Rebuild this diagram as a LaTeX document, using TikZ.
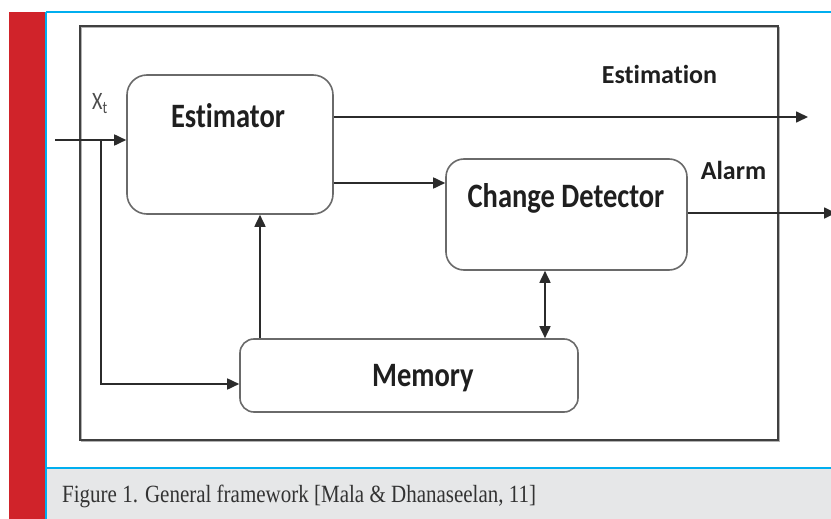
\documentclass[tikz,border=0pt]{standalone}
\usepackage{fontspec}
\usetikzlibrary{arrows.meta}
\newfontfamily\calib[Ligatures=NoCommon]{Carlito}
\newfontfamily\capserif{Liberation Serif}
\definecolor{barred}{HTML}{D0232A}
\definecolor{rulecyan}{HTML}{00AEEF}
\definecolor{capbg}{HTML}{E6E7E8}
\definecolor{boxline}{HTML}{6A6A6A}
\definecolor{wire}{HTML}{2B2B2B}
\tikzset{
  blk/.style={draw=boxline, line width=1.6pt, rounded corners=#1, inner sep=0pt},
  blk/.default=18pt,
  wirearrow/.style={draw=wire, line width=1.7pt, -{Triangle[length=12pt,width=11pt]}},
  wireboth/.style={draw=wire, line width=1.7pt, {Triangle[length=12pt,width=11pt]}-{Triangle[length=12pt,width=11pt]}},
  boxtext/.style={anchor=base, inner sep=0pt, text=black!88, font=\calib\bfseries\fontsize{28.5}{30}\selectfont},
  outtext/.style={anchor=base, inner sep=0pt, text=black!88, font=\calib\bfseries\fontsize{26}{28}\selectfont},
}
\begin{document}
\begin{tikzpicture}[x=1pt,y=-1pt]
\useasboundingbox (0,0) rectangle (831,519);
% page background, side bar, caption strip and rules
\fill[white] (0,0) rectangle (831,519);
\fill[barred] (9,12) rectangle (45,519);
\fill[capbg] (46,468) rectangle (831,519);
\draw[rulecyan, line width=1.6pt] (46,12) -- (831,12);
\draw[rulecyan, line width=1.6pt] (46,12) -- (46,519);
\draw[rulecyan, line width=2pt] (46,468) -- (831,468);
\node[anchor=base west, inner sep=0pt, text=black!80, font=\capserif\fontsize{21}{24}\selectfont] (caption) at (62,502)
  {\scalebox{1}[1.18]{Figure 1. General framework [Mala \& Dhanaseelan, 11]}};
% outer frame with a soft shadow
\draw[black!30, line width=1.6pt] (81.5,27.5) rectangle (779.5,441.5);
\draw[black!75, line width=1.6pt] (80,26) rectangle (778,440);
% blocks
\node[blk=20pt, minimum width=206pt, minimum height=139pt] (est) at (230,144.5) {};
\node[blk=18pt, minimum width=241pt, minimum height=111pt] (cd) at (566.5,214.5) {};
\node[blk=14pt, minimum width=338pt, minimum height=73pt] (mem) at (409,375.5) {};
\node[boxtext] (esttxt) at (228,128) {\scalebox{1}[1.2]{Estimator}};
\node[boxtext] (cdtxt) at (566,207) {\scalebox{1}[1.2]{Change Detector}};
\node[boxtext] (memtxt) at (423,386.5) {\scalebox{1}[1.2]{Memory}};
% outputs
\node[outtext] (estimation) at (659.5,84) {Estimation};
\node[outtext] (alarm) at (733.5,179) {Alarm};
\node[anchor=base, inner sep=0pt, text=black!70, font=\calib\fontsize{20}{22}\selectfont] (xt) at (100,110)
  {\scalebox{1}[1.25]{X\textsubscript{t}}};
% connectors
\coordinate (in) at (55,140);
\coordinate (split) at (101,140);
\coordinate (estout) at (808,117);
\coordinate (alarmout) at (836,213);
\draw[wirearrow] (in) -- (in -| est.west);
\draw[wirearrow] (split) |- (mem.west |- 0,384);
\draw[wirearrow] (est.east |- estout) -- (estout);
\draw[wirearrow] (est.east |- 0,183) -- (cd.west |- 0,183);
\draw[wirearrow] (cd.east |- alarmout) -- (alarmout);
\draw[wirearrow] (mem.north -| 260,0) -- (est.south -| 260,0);
\draw[wireboth] (cd.south -| 545,0) -- (mem.north -| 545,0);
\end{tikzpicture}
\end{document}
